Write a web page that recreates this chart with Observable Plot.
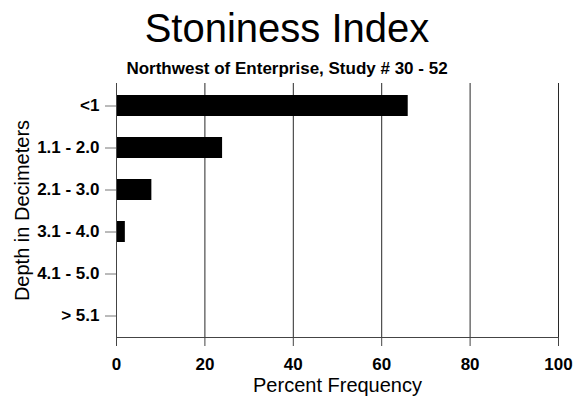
<!DOCTYPE html>
<html>
<head>
<meta charset="utf-8">
<script src="https://cdn.jsdelivr.net/npm/d3@7"></script>
<script src="https://cdn.jsdelivr.net/npm/@observablehq/plot@0.6"></script>
<style>
  html, body { margin: 0; padding: 0; background: #fff; }
  body { width: 574px; height: 401px; overflow: hidden; font-family: "Liberation Sans", Arial, sans-serif; color: #000; }
  #title { height: 56px; line-height: 56px; font-size: 40px; text-align: center; }
  #subtitle { height: 26px; line-height: 26px; font-size: 17px; font-weight: bold; text-align: center; }
  #chart svg { display: block; overflow: visible; }
</style>
</head>
<body>
<div id="title">Stoniness Index</div>
<div id="subtitle">Northwest of Enterprise, Study # 30 - 52</div>
<div id="chart"></div>
<script>
const categories = ["<1", "1.1 - 2.0", "2.1 - 3.0", "3.1 - 4.0", "4.1 - 5.0", "> 5.1"];
const values = [66, 24, 8, 2, 0, 0];
const xTicks = [0, 20, 40, 60, 80, 100];
const xLabel = "Percent Frequency";
const yLabel = "Depth in Decimeters";

const data = categories.map((c, i) => ({category: c, value: values[i]}));

const chart = Plot.plot({
  width: 574,
  height: 319,
  marginTop: 1,
  marginLeft: 116,
  marginRight: 16,
  marginBottom: 64,
  style: {fontFamily: "'Liberation Sans', Arial, sans-serif", fontSize: "17px", color: "#000", background: "#fff"},
  x: {domain: [0, 100]},
  y: {domain: categories, paddingInner: 0.5, paddingOuter: 0.25},
  marks: [
    Plot.gridX(xTicks, {stroke: "#111", strokeOpacity: 0.9}),
    Plot.barX(data, {x: "value", y: "category", fill: "#000"}),
    Plot.frame({anchor: "bottom", stroke: "#444"}),
    Plot.frame({anchor: "left", stroke: "#444"}),
    Plot.axisX({ticks: xTicks, tickSize: 9, tickPadding: 11, fontWeight: "bold", stroke: "#444", label: null}),
    Plot.axisY({tickSize: 11, tickPadding: 6, fontWeight: "bold", stroke: "#777", label: null}),
    Plot.text([xLabel], {text: d => d, frameAnchor: "bottom", lineAnchor: "middle", textAnchor: "middle", dy: 48, fontSize: 20}),
    Plot.text([yLabel], {text: d => d, frameAnchor: "left", lineAnchor: "middle", textAnchor: "middle", rotate: -90, dx: -94, fontSize: 20})
  ]
});
document.getElementById("chart").appendChild(chart);
</script>
</body>
</html>
